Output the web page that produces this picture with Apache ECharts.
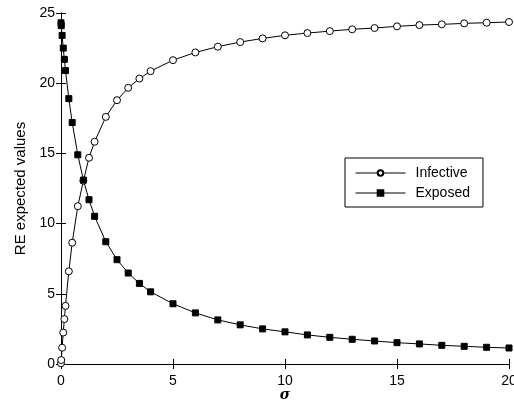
<!DOCTYPE html>
<html>
<head>
<meta charset="utf-8">
<script src="https://cdn.jsdelivr.net/npm/echarts@6/dist/echarts.min.js"></script>
<style>
  html, body { margin: 0; padding: 0; background: #fff; }
  #chart { width: 514px; height: 401px; }
</style>
</head>
<body>
<div id="chart"></div>
<script>
// sigma values and the two curves
var sigma = [0, 0.01, 0.05, 0.1, 0.15, 0.2, 0.35, 0.5, 0.75, 1, 1.25, 1.5, 2, 2.5, 3, 3.5, 4,
  5, 6, 7, 8, 9, 10, 11, 12, 13, 14, 15, 16, 17, 18, 19, 20];
var infective = [0.05, 0.28, 1.16, 2.24, 3.2, 4.14, 6.6, 8.64, 11.24, 13.05, 14.69, 15.83, 17.6, 18.79, 19.67, 20.33, 20.86,
  21.64, 22.19, 22.6, 22.93, 23.19, 23.41, 23.57, 23.71, 23.84, 23.93, 24.05, 24.14, 24.19, 24.26, 24.31, 24.36];
var exposed = [24.3, 24.1, 23.4, 22.5, 21.7, 20.9, 18.9, 17.2, 14.9, 13.1, 11.7, 10.52, 8.71, 7.43, 6.48, 5.74, 5.14,
  4.29, 3.64, 3.14, 2.79, 2.5, 2.29, 2.07, 1.9, 1.76, 1.64, 1.52, 1.43, 1.33, 1.26, 1.19, 1.14];

function pairs(ys) {
  var out = [];
  for (var i = 0; i < sigma.length; i++) {
    out.push([sigma[i], ys[i]]);
  }
  return out;
}

var font = 'Liberation Sans, Arial, sans-serif';
var chart = echarts.init(document.getElementById('chart'));

var option = {
  backgroundColor: '#fff',
  animation: false,
  grid: { left: 61, right: 5, top: 13, bottom: 37, outerBoundsMode: 'none', containLabel: false },
  legend: {
    orient: 'vertical',
    left: 345,
    top: 158,
    padding: [8, 13, 7, 10],
    itemGap: 6,
    itemWidth: 50,
    itemHeight: 7,
    borderColor: '#000',
    borderWidth: 1,
    lineStyle: { width: 1 },
    textStyle: { fontFamily: font, fontSize: 14, color: '#000', padding: [0, 0, 0, 5] },
    data: ['Infective', 'Exposed']
  },
  xAxis: [
    {
      type: 'value', min: 0, max: 20, interval: 5,
      name: 'σ', nameLocation: 'middle', nameGap: 24, nameMoveOverlap: false,
      nameTextStyle: { fontFamily: 'DejaVu Serif, serif', fontSize: 14, fontWeight: 'bold', fontStyle: 'italic', color: '#000' },
      axisLine: { lineStyle: { color: '#000', width: 1 } },
      axisTick: { inside: true, length: 5, lineStyle: { color: '#000' } },
      axisLabel: { fontFamily: font, fontSize: 14, color: '#000', margin: 10 },
      splitLine: { show: false }
    },
    {
      type: 'value', min: 0, max: 20, interval: 5, position: 'top',
      axisLine: { lineStyle: { color: '#000', width: 1 } },
      axisTick: { inside: true, length: 5, lineStyle: { color: '#000' } },
      axisLabel: { show: false },
      splitLine: { show: false }
    }
  ],
  yAxis: [
    {
      type: 'value', min: 0, max: 25, interval: 5,
      name: 'RE expected values', nameLocation: 'middle', nameGap: 27,
      nameTextStyle: { fontFamily: font, fontSize: 15, color: '#000' },
      axisLine: { show: true, lineStyle: { color: '#000', width: 1 } },
      axisTick: { show: true, inside: true, length: 5, lineStyle: { color: '#000' } },
      axisLabel: { fontFamily: font, fontSize: 14, color: '#000', margin: 6 },
      splitLine: { show: false }
    },
    {
      type: 'value', min: 0, max: 25, interval: 5, position: 'right',
      axisLine: { show: true, lineStyle: { color: '#000', width: 1 } },
      axisTick: { show: true, inside: true, length: 5, lineStyle: { color: '#000' } },
      axisLabel: { show: false },
      splitLine: { show: false }
    }
  ],
  series: [
    {
      name: 'Infective',
      type: 'line',
      data: pairs(infective),
      symbol: 'circle',
      symbolSize: 7,
      showAllSymbol: true,
      lineStyle: { color: '#000', width: 1 },
      itemStyle: { color: '#fff', borderColor: '#000', borderWidth: 1 }
    },
    {
      name: 'Exposed',
      type: 'line',
      data: pairs(exposed),
      symbol: 'rect',
      symbolSize: 6,
      showAllSymbol: true,
      lineStyle: { color: '#000', width: 1 },
      itemStyle: { color: '#000', borderColor: '#000', borderWidth: 1 }
    }
  ]
};

chart.setOption(option);
</script>
</body>
</html>
